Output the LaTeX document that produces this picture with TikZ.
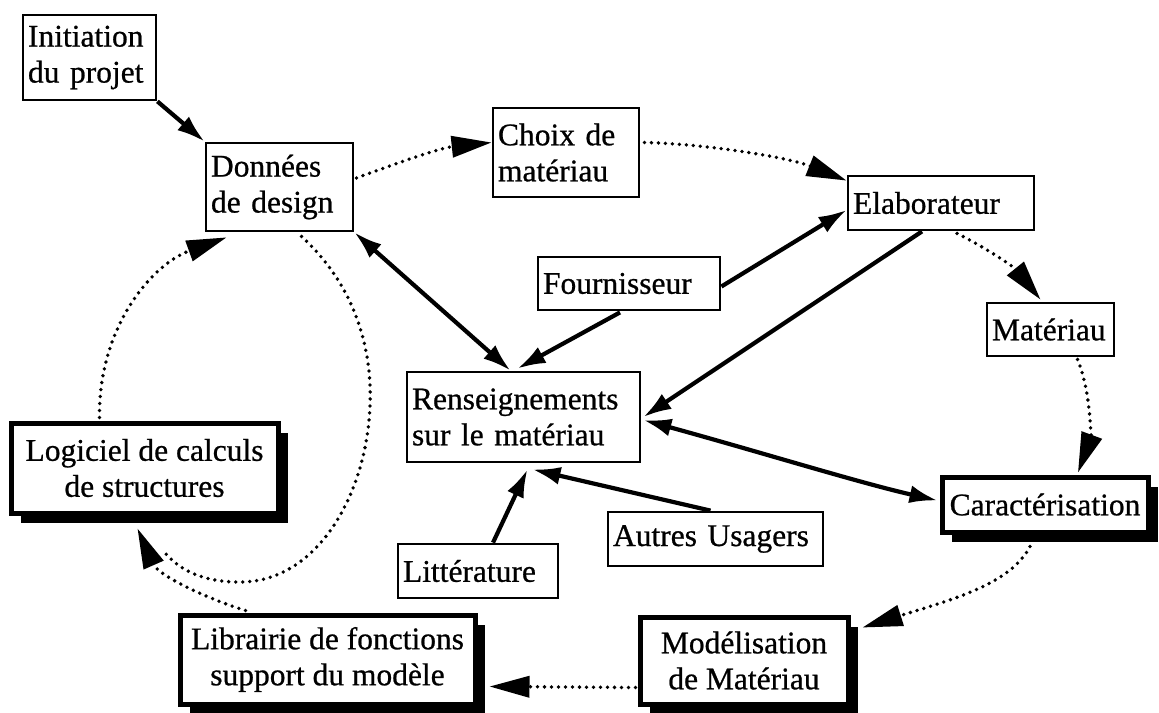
\documentclass[tikz,border=0pt]{standalone}
\usepackage{fontspec}
\setmainfont{Liberation Serif}[FakeBold=0.7]
\usetikzlibrary{arrows.meta,shadows,calc}
\tikzset{
  base/.style={draw, line width=2.8pt, fill=white, inner xsep=5pt, inner ysep=0pt,
    font=\fontsize{31.5}{36}\selectfont},
  lbox/.style={base, align=left},
  sbox/.style={base, line width=5pt, align=center,
    drop shadow={shadow xshift=10pt, shadow yshift=-10pt, opacity=1, fill=black}},
  solidarr/.style={line width=4.2pt, -{Latex[length=28pt,width=18pt]}},
  bothsolid/.style={line width=4.2pt, {Latex[length=28pt,width=18pt]}-{Latex[length=28pt,width=18pt]}},
  dotline/.style={line width=3.8pt, line cap=round, dash pattern=on 0pt off 7pt},
  dotarr/.style={dotline, -{Triangle[length=40pt,width=21pt]}}
}
\begin{document}
\begin{tikzpicture}[x=1pt,y=-1pt]
\useasboundingbox (0,0) rectangle (1159,712);
% nodes
\node[lbox, minimum width=133, minimum height=85, text width=123] (init) at (89.5,57.5) {Initiation\\du projet};
\node[lbox, minimum width=147, minimum height=88, text width=137] (donnees) at (279.5,187) {Données\\de design};
\node[lbox, minimum width=146, minimum height=89, text width=136] (choix) at (566,152.5) {Choix de\\matériau};
\node[lbox, minimum width=182, minimum height=53, text width=172] (fourn) at (629,283.5) {Fournisseur};
\node[lbox, minimum width=186, minimum height=54, text width=176] (elab) at (941,203) {Elaborateur};
\node[lbox, minimum width=127, minimum height=53, text width=117] (mat) at (1050.5,329.5) {Matériau};
\node[lbox, minimum width=233, minimum height=90, text width=223] (rens) at (523.5,417) {Renseignements\\sur le matériau};
\node[lbox, minimum width=160, minimum height=54, text width=150] (litt) at (478,571) {Littérature};
\node[lbox, minimum width=215, minimum height=54, text width=205] (autres) at (715.5,539) {Autres Usagers};
\node[sbox, minimum width=206, minimum height=55] (caract) at (1045,504.5) {Caractérisation};
\node[sbox, minimum width=208, minimum height=87] (model) at (744,660.5) {Modélisation\\de Matériau};
\node[sbox, minimum width=295, minimum height=89] (libr) at (327.5,659.5) {Librairie de fonctions\\support du modèle};
\node[sbox, minimum width=267, minimum height=90] (logic) at (144.5,468) {Logiciel de calculs\\de structures};
% coordinate where the loop joins
\coordinate (merge) at (165,553);
% solid connectors
\draw[solidarr] (init.south east) -- (donnees.north west);
\draw[bothsolid] (donnees.south east) -- ($(rens.north)+(-13,0)$);
\draw[solidarr] ($(fourn.south)+(-9,1)$) -- ($(rens.north)+(-6,-2)$);
\draw[solidarr] ($(fourn.east)+(0,3)$) -- ($(elab.west)+(0,7)$);
\draw[solidarr] ($(elab.south)+(-19,0)$) -- ($(rens.east)+(2,0)$);
\draw[bothsolid] ($(rens.east)+(2,3)$) .. controls (760,452) and (860,483) .. ($(caract.west)+(-2,-4)$);
\draw[solidarr] ($(litt.north)+(15,0)$) -- ($(rens.south)+(4,6)$);
\draw[solidarr] ($(autres.north)+(-5,0)$) -- ($(rens.south)+(9,6)$);
% dotted connectors
\draw[dotarr] ($(donnees.east)+(2,-9)$) .. controls (400,162) and (440,148) .. ($(choix.west)+(0,-10)$);
\draw[dotarr] ($(choix.east)+(4,-10)$) .. controls (710,144) and (790,158) .. ($(elab.north west)+(0,6)$);
\draw[dotarr] ($(elab.south)+(16,2)$) .. controls (990,250) and (1015,268) .. ($(mat.north)+(-10,-2)$);
\draw[dotarr] ($(mat.south)+(27,2)$) .. controls (1092,395) and (1090,440) .. ($(caract.north)+(33,-2)$);
\draw[dotarr] ($(caract.south)+(-15,12)$) .. controls (1010,585) and (950,600) .. ($(model.north east)+(12,13)$);
\draw[dotarr] ($(model.west)+(-2,27)$) -- ($(libr.east)+(12,27)$);
\draw[dotarr] ($(libr.north west)+(68,-2)$) .. controls (205,598) and (158,575) .. ($(logic.south west)+(129,13)$);
\draw[dotarr] ($(logic.north west)+(91,-3)$) .. controls (98,330) and (150,265) .. ($(donnees.south west)+(22,5)$);
\draw[dotline] ($(donnees.south)+(22,4)$) .. controls (360,290) and (375,360) .. (369,420)
  .. controls (362,500) and (315,582) .. (240,582) .. controls (205,582) and (182,572) .. (merge);
\end{tikzpicture}
\end{document}
